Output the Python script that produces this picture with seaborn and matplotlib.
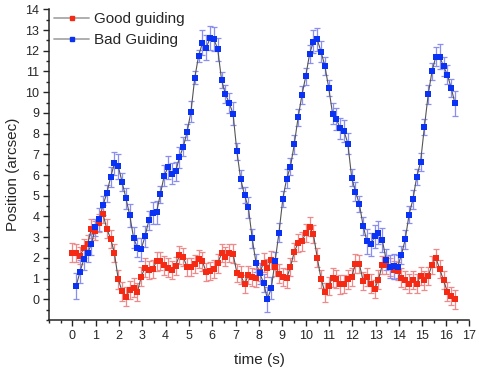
import numpy as np
import pandas as pd
import matplotlib
matplotlib.use("Agg")
import matplotlib.pyplot as plt
from matplotlib.lines import Line2D
from matplotlib.ticker import MultipleLocator
import seaborn as sns

# ---------------- data ----------------
dt = 0.164  # sampling interval (s)

good_pos = [2.25, 2.23, 2.10, 2.46, 2.68, 3.41, 3.30, 3.68, 4.12, 3.41,
            2.93, 2.23, 0.96, 0.39, 0.13, 0.43, 0.56, 0.35, 1.09, 1.53,
            1.41, 1.46, 1.83, 1.85, 1.64, 1.53, 1.41, 1.61, 2.14, 2.03,
            1.56, 1.56, 1.70, 1.96, 1.83, 1.30, 1.37, 1.45, 1.74, 2.22,
            2.06, 2.25, 2.20, 1.28, 1.17, 0.72, 1.18, 1.09, 1.02, 1.30,
            1.77, 1.50, 1.90, 1.57, 1.24, 1.09, 1.01, 1.57, 2.29, 2.72,
            2.80, 3.20, 3.50, 3.14, 2.01, 0.98, 0.34, 0.64, 1.04, 0.98,
            0.72, 0.75, 0.96, 1.09, 1.72, 1.72, 0.88, 1.06, 0.75, 0.50,
            0.95, 1.66, 1.66, 1.57, 1.41, 1.38, 1.04, 0.92, 0.75, 0.92,
            0.75, 1.12, 0.92, 1.12, 1.66, 2.01, 1.46, 0.92, 0.37, 0.17,
            0.00]
good_err = [0.45, 0.45, 0.42, 0.45, 0.44, 0.45, 0.46, 0.44, 0.43, 0.45,
            0.44, 0.45, 0.44, 0.45, 0.44, 0.43, 0.45, 0.44, 0.45, 0.44,
            0.45, 0.44, 0.45, 0.44, 0.45, 0.44, 0.45, 0.44, 0.45, 0.44,
            0.45, 0.44, 0.45, 0.44, 0.45, 0.44, 0.45, 0.44, 0.45, 0.44,
            0.45, 0.44, 0.45, 0.44, 0.45, 0.44, 0.45, 0.44, 0.45, 0.44,
            0.45, 0.44, 0.45, 0.44, 0.45, 0.44, 0.45, 0.44, 0.45, 0.44,
            0.45, 0.44, 0.45, 0.44, 0.45, 0.44, 0.45, 0.44, 0.45, 0.44,
            0.45, 0.44, 0.45, 0.44, 0.45, 0.44, 0.45, 0.44, 0.45, 0.44,
            0.45, 0.44, 0.45, 0.44, 0.45, 0.44, 0.45, 0.44, 0.45, 0.44,
            0.45, 0.44, 0.45, 0.44, 0.45, 0.44, 0.45, 0.44, 0.45, 0.44,
            0.45]

bad_pos = [0.64, 1.33, 1.93, 2.24, 2.66, 3.47, 3.86, 4.54, 5.11, 5.90,
           6.56, 6.42, 5.67, 4.88, 4.06, 2.97, 2.49, 2.42, 3.04, 3.82,
           4.17, 4.20, 5.07, 5.97, 6.37, 6.06, 6.18, 6.85, 7.37, 8.08,
           9.06, 10.70, 11.76, 12.38, 12.15, 12.62, 12.57, 12.07, 10.59, 9.91,
           9.48, 8.96, 7.14, 5.80, 5.03, 4.44, 2.94, 1.76, 1.25, 0.78,
           0.00, 0.55, 1.86, 3.21, 4.84, 5.82, 6.40, 7.49, 8.78, 9.86,
           10.77, 11.85, 12.44, 12.55, 11.95, 11.26, 10.21, 8.97, 8.71, 8.26,
           8.13, 7.52, 5.88, 5.19, 4.61, 3.54, 2.80, 2.65, 3.04, 3.21,
           2.86, 1.92, 1.57, 1.59, 1.57, 2.14, 2.90, 4.09, 4.82, 5.91,
           6.63, 8.31, 9.89, 11.01, 11.72, 11.72, 11.25, 10.85, 10.21, 9.46]
bad_err = [0.62, 0.55, 0.50, 0.45, 0.50, 0.40, 0.55, 0.45, 0.40, 0.50,
           0.55, 0.60, 0.45, 0.50, 0.55, 0.50, 0.45, 0.55, 0.50, 0.45,
           0.55, 0.55, 0.40, 0.50, 0.55, 0.50, 0.45, 0.50, 0.45, 0.40,
           0.50, 0.30, 0.30, 0.60, 0.60, 0.60, 0.60, 0.55, 0.40, 0.45,
           0.50, 0.55, 0.40, 0.45, 0.40, 0.50, 0.45, 0.45, 0.50, 0.45,
           0.60, 0.55, 0.40, 0.45, 0.40, 0.45, 0.40, 0.45, 0.40, 0.45,
           0.40, 0.45, 0.55, 0.55, 0.50, 0.45, 0.40, 0.50, 0.55, 0.50,
           0.55, 0.50, 0.40, 0.45, 0.40, 0.45, 0.60, 0.55, 0.55, 0.55,
           0.60, 0.50, 0.55, 0.60, 0.55, 0.45, 0.45, 0.40, 0.45, 0.40,
           0.45, 0.40, 0.45, 0.40, 0.45, 0.60, 0.45, 0.45, 0.45, 0.60]

good_t = np.arange(len(good_pos)) * dt
bad_t = np.arange(1, len(bad_pos) + 1) * dt

series_names = ["Good guiding", "Bad Guiding"]
marker_colors = {"Good guiding": "#f52a14", "Bad Guiding": "#0a32f5"}
err_colors = {"Good guiding": "#f08a8a", "Bad Guiding": "#8a8ef0"}

df = pd.concat([
    pd.DataFrame({"time": good_t, "pos": good_pos, "err": good_err, "series": series_names[0]}),
    pd.DataFrame({"time": bad_t, "pos": bad_pos, "err": bad_err, "series": series_names[1]}),
], ignore_index=True)

# ---------------- plotting ----------------
sns.set_style("ticks")
plt.rcParams["font.family"] = ["Liberation Sans", "DejaVu Sans"]

fig = plt.figure(figsize=(4.79, 3.72), dpi=100)
ax = fig.add_axes([0.1023, 0.1398, 0.8768, 0.835])

for name in series_names:
    sub = df[df["series"] == name]
    ax.errorbar(sub["time"], sub["pos"], yerr=sub["err"], fmt="none",
                ecolor=err_colors[name], elinewidth=0.9, capsize=2.3,
                capthick=0.9, zorder=1)
    sns.lineplot(data=sub, x="time", y="pos", color="#555555", linewidth=0.8,
                 estimator=None, sort=False, ax=ax, legend=False, zorder=2)
    sns.scatterplot(data=sub, x="time", y="pos", color=marker_colors[name],
                    marker="s", s=13, linewidth=0, ax=ax, legend=False, zorder=3)

ax.set_xlim(-1, 17)
ax.set_ylim(-1, 14)
ax.xaxis.set_minor_locator(MultipleLocator(0.5))
ax.yaxis.set_minor_locator(MultipleLocator(0.5))
ax.set_xticks(range(0, 18))
ax.set_yticks(range(0, 15))
ax.tick_params(which="major", direction="out", length=4, width=1, labelsize=9, pad=3)
ax.tick_params(which="minor", direction="out", length=2.5, width=1)
sns.despine(ax=ax)
for sp in ("left", "bottom"):
    ax.spines[sp].set_linewidth(1.1)

ax.set_xlabel("time (s)", fontsize=11)
ax.set_ylabel("Position (arcsec)", fontsize=11)
ax.xaxis.set_label_coords(0.5, -0.105)
ax.yaxis.set_label_coords(-0.07, 0.47)

handles = [Line2D([0], [0], color="#a8a8a8", linewidth=1.3, marker="s",
                  markersize=3.5, markerfacecolor=marker_colors[n],
                  markeredgecolor=marker_colors[n]) for n in series_names]
ax.legend(handles, series_names, loc="upper left", bbox_to_anchor=(0.012, 0.99),
          frameon=False, fontsize=11, handlelength=2.3, handletextpad=0.3,
          labelspacing=0.45, borderpad=0, borderaxespad=0)

fig.savefig("out.png", dpi=100)
